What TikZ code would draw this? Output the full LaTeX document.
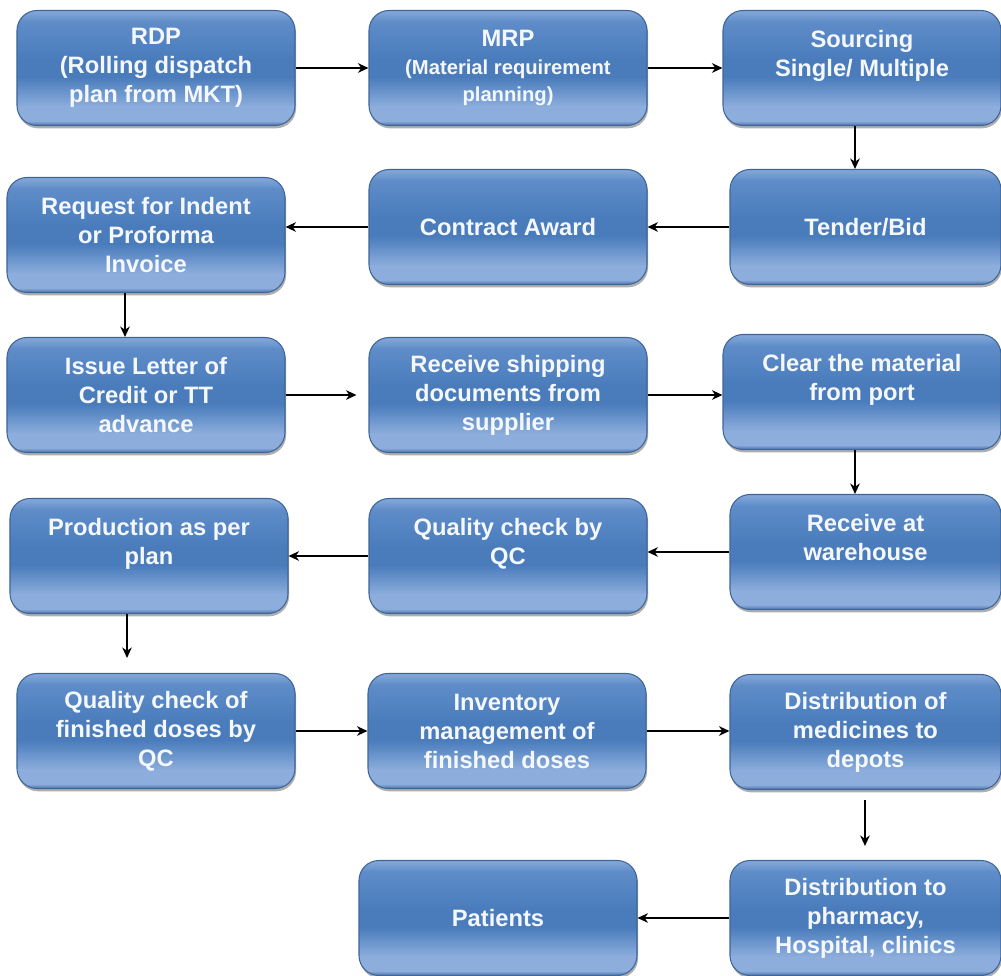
\documentclass[tikz,border=0pt]{standalone}
\usepackage{fontspec}
\setmainfont{Liberation Sans}
\usepackage{tikz}
\usetikzlibrary{arrows.meta,shadows,calc}
\usepackage{xcolor}
\definecolor{bxRim}{HTML}{4A70A6}
\definecolor{bxLow}{HTML}{8DAEDD}
\definecolor{bxMid}{HTML}{4A7CBC}
\definecolor{bxUp}{HTML}{5E8CC8}
\definecolor{bxTop}{HTML}{86A9DA}
\definecolor{bxBorder}{HTML}{3F6699}
\definecolor{bxText}{HTML}{F4F8FD}
\pgfdeclareverticalshading{boxshade}{100bp}{color(0bp)=(bxRim); color(25bp)=(bxRim); color(27bp)=(bxLow); color(33bp)=(bxLow); color(46bp)=(bxMid); color(54bp)=(bxMid); color(70bp)=(bxUp); color(75bp)=(bxTop); color(100bp)=(bxTop)}
\tikzset{
    stepbox/.style={rectangle, rounded corners=0.4cm, draw=bxBorder, line width=0.6pt,
        shading=boxshade, minimum width=5.56cm, minimum height=2.3cm, inner sep=2pt,
        align=center, text=bxText, font=\fontsize{13.5}{16.5}\selectfont\bfseries,
        drop shadow={shadow xshift=0.6pt, shadow yshift=-1.6pt, opacity=0.45, fill=black!70}},
    arrow/.style={-{Stealth[length=6pt, width=5.5pt]}, line width=0.9pt}
}

\begin{document}
\begin{tikzpicture}[
    smallbox/.style={stepbox, font=\fontsize{11.5}{15.5}\selectfont\bfseries}
]
    \useasboundingbox (0,0) rectangle (20.02,-19.52);

    % Row 1: planning
    \node[stepbox] (rdp) at (3.12,-1.36) {RDP\\(Rolling dispatch\\plan from MKT)};
    \node[smallbox] (mrp) at (10.16,-1.36) {{\fontsize{13.5}{16.5}\selectfont MRP}\\(Material requirement\\planning)};
    \node[stepbox] (sourcing) at (17.24,-1.36) {Sourcing\\Single/ Multiple\\ ~};

    % Row 2: purchasing
    \node[stepbox] (request) at (2.92,-4.70) {Request for Indent\\or Proforma\\Invoice};
    \node[stepbox] (contract) at (10.16,-4.54) {Contract Award};
    \node[stepbox, minimum width=5.42cm] (tender) at (17.31,-4.54) {Tender/Bid};

    % Row 3: import
    \node[stepbox] (issue) at (2.92,-7.90) {Issue Letter of\\Credit or TT\\advance};
    \node[stepbox] (shipping) at (10.16,-7.90) {Receive shipping\\documents from\\supplier};
    \node[stepbox] (clear) at (17.24,-7.84) {Clear the material\\from port\\ ~};

    % Row 4: warehouse and production
    \node[stepbox] (prod) at (2.98,-11.12) {Production as per\\plan\\ ~};
    \node[stepbox] (qc) at (10.16,-11.12) {Quality check by\\QC\\ ~};
    \node[stepbox, minimum width=5.42cm] (warehouse) at (17.31,-11.04) {Receive at\\warehouse\\ ~};

    % Row 5: finished doses
    \node[stepbox] (qcfin) at (3.12,-14.62) {Quality check of\\finished doses by\\QC};
    \node[stepbox] (inventory) at (10.14,-14.62) {Inventory\\management of\\finished doses};
    \node[stepbox, minimum width=5.42cm] (depots) at (17.31,-14.64) {Distribution of\\medicines to\\depots};

    % Row 6: delivery
    \node[stepbox] (patients) at (9.96,-18.36) {Patients};
    \node[stepbox, minimum width=5.42cm] (pharmacy) at (17.31,-18.36) {Distribution to\\pharmacy,\\Hospital, clinics};

    % Flow arrows
    \draw[arrow] (rdp) -- (mrp);
    \draw[arrow] (mrp) -- (sourcing);
    \draw[arrow] ([xshift=-0.14cm]sourcing.south) -- ([xshift=-0.14cm]sourcing.south |- tender.north);
    \draw[arrow] (tender) -- (contract);
    \draw[arrow] (contract.west) -- (contract.west -| request.east);
    \draw[arrow] ([xshift=-0.42cm]request.south) -- ([xshift=-0.42cm]request.south |- issue.north);
    \draw[arrow, shorten >=0.24cm] (issue.east) -- (issue.east -| shipping.west);
    \draw[arrow] (shipping.east) -- (shipping.east -| clear.west);
    \draw[arrow] ([xshift=-0.14cm]clear.south) -- ([xshift=-0.14cm]clear.south |- warehouse.north);
    \draw[arrow] (warehouse.west) -- (warehouse.west -| qc.east);
    \draw[arrow] (qc) -- (prod);
    \draw[arrow, shorten >=0.3cm] ([xshift=-0.44cm]prod.south) -- ([xshift=-0.44cm]prod.south |- qcfin.north);
    \draw[arrow] (qcfin.east) -- (qcfin.east -| inventory.west);
    \draw[arrow] (inventory.east) -- (inventory.east -| depots.west);
    \draw[arrow, shorten <=0.2cm, shorten >=0.28cm] ([xshift=-0.01cm]depots.south) -- ([xshift=-0.01cm]depots.south |- pharmacy.north);
    \draw[arrow] (pharmacy) -- (patients);

\end{tikzpicture}
\end{document}
